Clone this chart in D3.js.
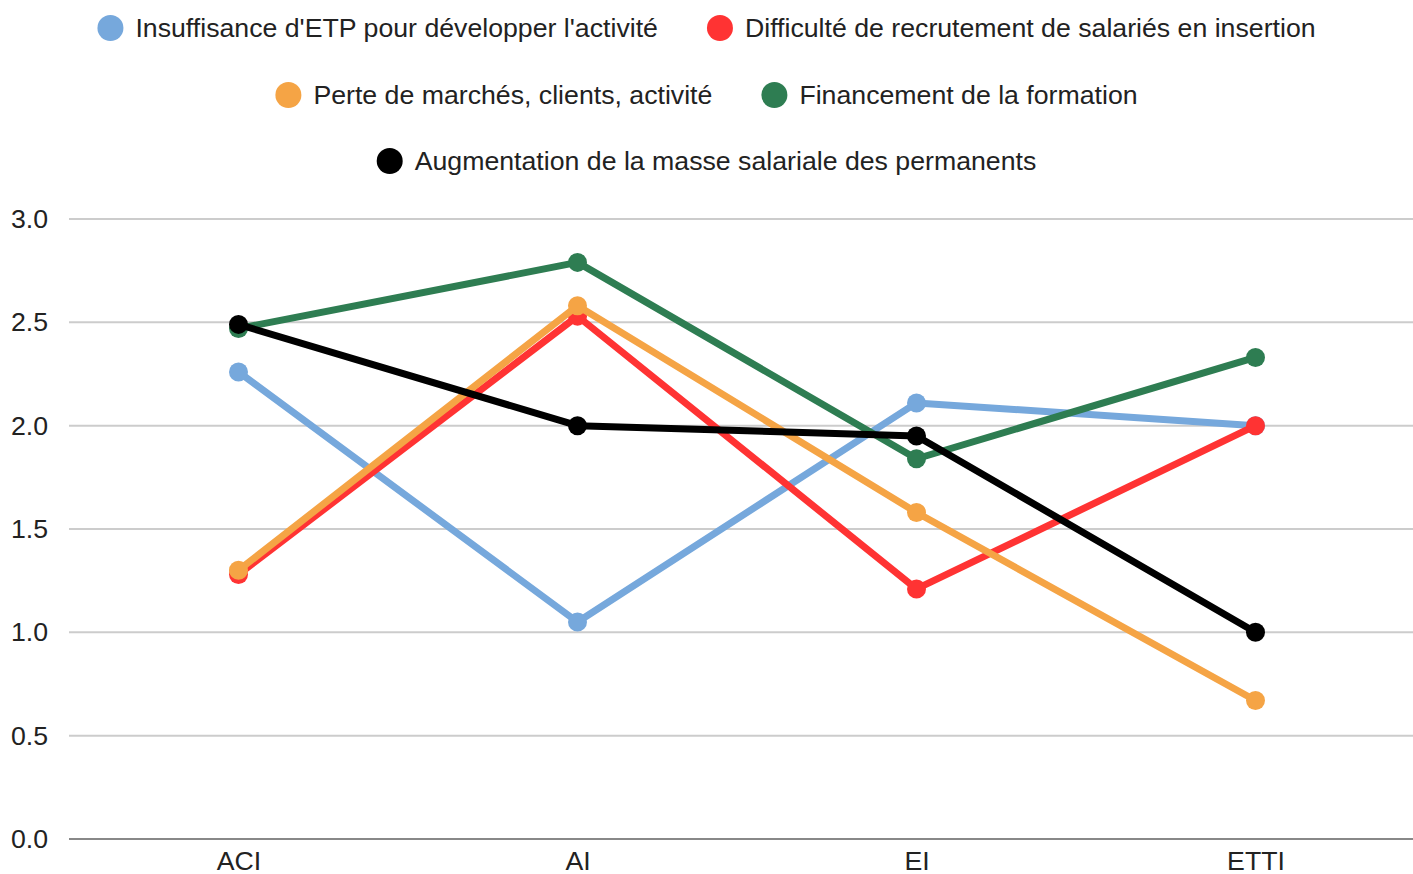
<!DOCTYPE html>
<html>
<head>
<meta charset="utf-8">
<script src="https://cdn.jsdelivr.net/npm/d3@7"></script>
<style>
  body { margin: 0; background: #fff; }
  text { font-family: "Liberation Sans", Arial, sans-serif; }
</style>
</head>
<body>
<svg></svg>
<script>
const width = 1413;
const height = 874;

// Data
const categories = ["ACI", "AI", "EI", "ETTI"];
const seriesNames = [
    "Insuffisance d'ETP pour développer l'activité",
    "Difficulté de recrutement de salariés en insertion",
    "Perte de marchés, clients, activité",
    "Financement de la formation",
    "Augmentation de la masse salariale des permanents"
];
const seriesColors = ["#76a8dc", "#ff3333", "#f5a445", "#2e7d52", "#000000"];
const insuffisance = [2.26, 1.05, 2.11, 2.0];
const recrutement = [1.28, 2.53, 1.21, 2.0];
const perte = [1.30, 2.58, 1.58, 0.67];
const financement = [2.47, 2.79, 1.84, 2.33];
const masseSalariale = [2.49, 2.0, 1.95, 1.0];
const yTicks = [0, 0.5, 1.0, 1.5, 2.0, 2.5, 3.0];
const legendRows = [[0, 1], [2, 3], [4]];

const seriesValues = [insuffisance, recrutement, perte, financement, masseSalariale];

const fontSize = 26.7;

const svg = d3.select("svg")
    .attr("width", width)
    .attr("height", height);

const plotLeft = 69, plotRight = 1413;
const x = d3.scalePoint()
    .domain(categories)
    .range([69, 69 + 339 * 4])
    .padding(0.5);

const y = d3.scaleLinear()
    .domain([0, 3])
    .range([839, 219]);

// Gridlines
svg.append("g")
    .selectAll("line")
    .data(yTicks)
    .enter().append("line")
    .attr("x1", plotLeft)
    .attr("x2", plotRight)
    .attr("y1", d => y(d))
    .attr("y2", d => y(d))
    .attr("stroke", d => d === 0 ? "#888" : "#cccccc")
    .attr("stroke-width", 2);

// Y axis labels
const yAxis = svg.append("g")
    .attr("transform", `translate(${plotLeft - 21},0)`)
    .call(d3.axisLeft(y).tickValues(yTicks).tickFormat(d3.format(".1f")).tickSize(0).tickPadding(0));
yAxis.select(".domain").remove();
yAxis.selectAll("text")
    .attr("font-size", fontSize)
    .attr("fill", "#222")
    .attr("font-family", "Liberation Sans, Arial, sans-serif");

// X axis labels
const xAxis = svg.append("g")
    .attr("transform", `translate(0,${y(0)})`)
    .call(d3.axisBottom(x).tickSize(0).tickPadding(12));
xAxis.select(".domain").remove();
xAxis.selectAll("text")
    .attr("font-size", fontSize)
    .attr("fill", "#222")
    .attr("font-family", "Liberation Sans, Arial, sans-serif");

// Lines and points
const line = d3.line()
    .x((d, i) => x(categories[i]))
    .y(d => y(d));

seriesValues.forEach((vals, s) => {
    const g = svg.append("g");
    g.append("path")
        .datum(vals)
        .attr("d", line)
        .attr("fill", "none")
        .attr("stroke", seriesColors[s])
        .attr("stroke-width", 7)
        .attr("stroke-linejoin", "round");
    g.selectAll("circle")
        .data(vals)
        .enter().append("circle")
        .attr("cx", (d, i) => x(categories[i]))
        .attr("cy", d => y(d))
        .attr("r", 9.5)
        .attr("fill", seriesColors[s]);
});

// Legend
const legendY = [28, 95, 161];
const itemGap = 49;
legendRows.forEach((row, r) => {
    const g = svg.append("g");
    let cursor = 0;
    row.forEach((s, k) => {
        const item = g.append("g").attr("transform", `translate(${cursor},0)`);
        item.append("circle")
            .attr("cx", 13)
            .attr("cy", legendY[r])
            .attr("r", 13)
            .attr("fill", seriesColors[s]);
        const t = item.append("text")
            .attr("x", 38)
            .attr("y", legendY[r])
            .attr("dy", "0.35em")
            .attr("font-size", fontSize)
            .attr("fill", "#222")
            .text(seriesNames[s]);
        cursor += 38 + t.node().getComputedTextLength() + itemGap;
    });
    const total = cursor - itemGap;
    g.attr("transform", `translate(${width / 2 - total / 2},0)`);
});
</script>
</body>
</html>
